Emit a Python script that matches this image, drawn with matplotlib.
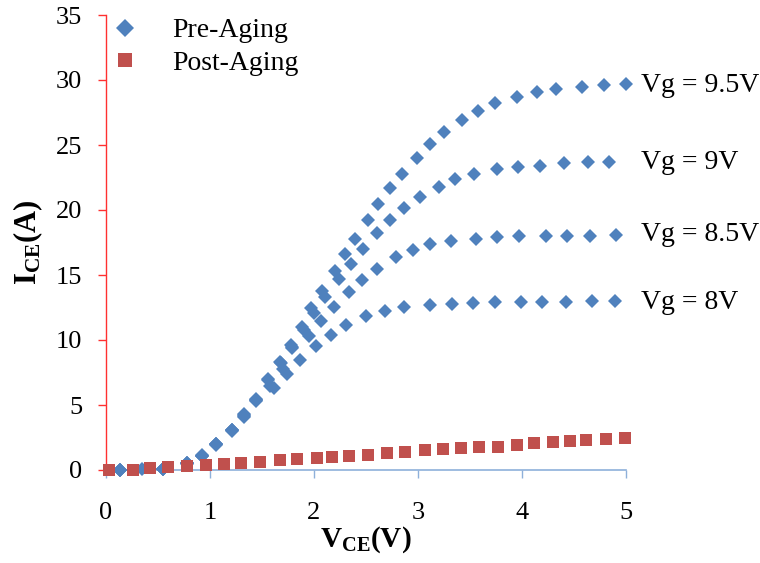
import matplotlib
matplotlib.use("Agg")
import matplotlib.pyplot as plt

# ---- data ----
vg_labels = ["Vg = 9.5V", "Vg = 9V", "Vg = 8.5V", "Vg = 8V"]

x_95 = [0.13, 0.35, 0.55, 0.78, 0.92, 1.06, 1.21, 1.33, 1.44, 1.56, 1.67, 1.78, 1.88, 1.97, 2.08, 2.20,
        2.30, 2.39, 2.52, 2.62, 2.73, 2.85, 2.99, 3.12, 3.25, 3.42, 3.58, 3.74, 3.95, 4.14, 4.33, 4.58,
        4.79, 5.00]
y_95 = [0.0, 0.05, 0.05, 0.56, 1.15, 2.0, 3.1, 4.3, 5.5, 7.0, 8.3, 9.6, 11.0, 12.5, 13.8, 15.3,
        16.6, 17.8, 19.25, 20.5, 21.7, 22.8, 24.0, 25.05, 26.0, 26.9, 27.6, 28.25, 28.7, 29.05, 29.3, 29.5,
        29.6, 29.7]

x_90 = [0.13, 0.55, 0.78, 0.92, 1.06, 1.21, 1.33, 1.44, 1.56, 1.68, 1.79, 1.90, 2.00, 2.11, 2.24, 2.36,
        2.47, 2.61, 2.73, 2.87, 3.02, 3.20, 3.36, 3.54, 3.76, 3.96, 4.17, 4.40, 4.63, 4.84]
y_90 = [0.0, 0.05, 0.55, 1.1, 2.0, 3.1, 4.2, 5.4, 6.9, 8.2, 9.5, 10.8, 12.05, 13.3, 14.7, 15.85,
        17.0, 18.2, 19.25, 20.15, 21.0, 21.8, 22.4, 22.8, 23.15, 23.3, 23.4, 23.6, 23.7, 23.7]

x_85 = [0.13, 0.55, 0.78, 0.92, 1.06, 1.21, 1.33, 1.44, 1.58, 1.70, 1.79, 1.95, 2.07, 2.19, 2.34, 2.46,
        2.61, 2.79, 2.95, 3.12, 3.32, 3.56, 3.76, 3.97, 4.23, 4.43, 4.65, 4.90]
y_85 = [0.0, 0.05, 0.55, 1.1, 2.0, 3.05, 4.15, 5.35, 6.5, 7.8, 9.35, 10.3, 11.5, 12.56, 13.7, 14.6,
        15.5, 16.4, 16.9, 17.35, 17.6, 17.8, 17.9, 18.0, 18.0, 18.0, 18.0, 18.1]

x_80 = [0.13, 0.55, 0.78, 0.92, 1.06, 1.21, 1.33, 1.44, 1.62, 1.74, 1.87, 2.02, 2.16, 2.31, 2.50, 2.68,
        2.87, 3.12, 3.33, 3.53, 3.74, 3.99, 4.19, 4.42, 4.67, 4.89]
y_80 = [0.0, 0.05, 0.5, 1.1, 1.95, 3.0, 4.1, 5.3, 6.3, 7.4, 8.5, 9.56, 10.38, 11.15, 11.85, 12.23,
        12.54, 12.67, 12.8, 12.85, 12.9, 12.95, 12.95, 12.95, 13.0, 13.0]

x_post = [0.03, 0.26, 0.42, 0.60, 0.78, 0.96, 1.13, 1.30, 1.48, 1.67, 1.84, 2.03, 2.17, 2.34, 2.52, 2.70,
          2.875, 3.07, 3.24, 3.41, 3.59, 3.77, 3.95, 4.12, 4.30, 4.46, 4.62, 4.81, 4.99]
y_post = [0.0, 0.0, 0.13, 0.2, 0.3, 0.36, 0.46, 0.51, 0.64, 0.77, 0.85, 0.92, 0.98, 1.08, 1.18, 1.33,
          1.38, 1.51, 1.59, 1.67, 1.77, 1.79, 1.95, 2.05, 2.13, 2.23, 2.3, 2.38, 2.48]

label_y = [29.6, 23.65, 18.15, 12.9]

x_ticks = [0, 1, 2, 3, 4, 5]
y_ticks = [0, 5, 10, 15, 20, 25, 30, 35]

# ---- style ----
plt.rcParams['font.family'] = ['Liberation Serif', 'DejaVu Serif']
plt.rcParams['mathtext.fontset'] = 'custom'
plt.rcParams['mathtext.rm'] = 'Liberation Serif'
plt.rcParams['mathtext.bf'] = 'Liberation Serif:bold'
plt.rcParams['mathtext.it'] = 'Liberation Serif:italic'

blue = '#4F81BD'
red = '#C0504D'

fig = plt.figure(figsize=(7.6, 5.63), dpi=100)
ax = fig.add_axes([106 / 760, 1 - 470 / 563, 520 / 760, 455 / 563])

pre_sets = [(x_95, y_95), (x_90, y_90), (x_85, y_85), (x_80, y_80)]
for i, (xs, ys) in enumerate(pre_sets):
    ax.plot(xs, ys, linestyle='none', marker='D', markersize=7.6, color=blue,
            markeredgewidth=0, label='Pre-Aging' if i == 0 else None, clip_on=False, zorder=3)
ax.plot(x_post, y_post, linestyle='none', marker='s', markersize=8.5, color=red,
        markeredgewidth=0, label='Post-Aging', clip_on=False, zorder=4)

for lab, yv in zip(vg_labels, label_y):
    ax.text(5.14, yv, lab, ha='left', va='center', fontsize=20, clip_on=False)

ax.set_xlim(0, 5)
ax.set_ylim(0, 35)
ax.set_xticks(x_ticks)
ax.set_yticks(y_ticks)
ax.tick_params(axis='x', direction='out', length=6, width=1, color='#8EB0DA', pad=17, labelsize=19)
ax.tick_params(axis='y', direction='out', length=6, width=1, color='#FF3030', pad=11, labelsize=19)

for s in ['top', 'right']:
    ax.spines[s].set_visible(False)
ax.spines['left'].set_color('#FF3030')
ax.spines['bottom'].set_color('#8EB0DA')
ax.spines['left'].set_linewidth(1)
ax.spines['bottom'].set_linewidth(1.2)

ax.set_xlabel(r'$\mathbf{V}_{\mathbf{CE}}\mathbf{(V)}$', fontsize=21, labelpad=0)
ax.set_ylabel(r'$\mathbf{I}_{\mathbf{CE}}\mathbf{(A)}$', fontsize=22, labelpad=8)

leg = ax.legend(loc='upper left', bbox_to_anchor=(108 / 760, 1 - 18 / 563),
                bbox_transform=fig.transFigure, frameon=False, fontsize=20,
                handletextpad=1.1, handlelength=1.2, labelspacing=0.25,
                borderaxespad=0, borderpad=0, markerscale=1.15)

fig.savefig('out.png', dpi=100)
